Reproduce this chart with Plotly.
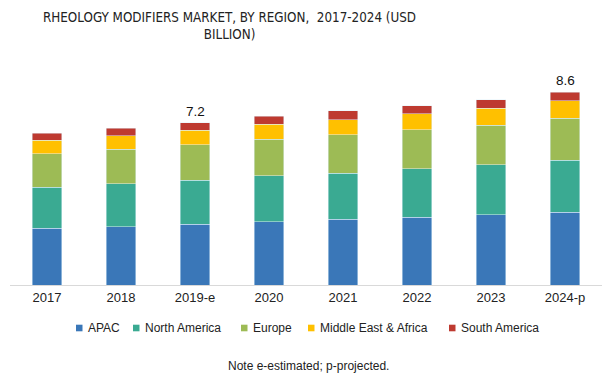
import plotly.graph_objects as go

years = ["2017", "2018", "2019-e", "2020", "2021", "2022", "2023", "2024-p"]
apac = [2.53, 2.60, 2.72, 2.82, 2.94, 3.03, 3.13, 3.24]
north_america = [1.84, 1.93, 1.96, 2.05, 2.06, 2.15, 2.23, 2.33]
europe = [1.48, 1.53, 1.59, 1.63, 1.71, 1.75, 1.78, 1.87]
mea = [0.61, 0.61, 0.64, 0.67, 0.67, 0.71, 0.76, 0.78]
south_america = [0.31, 0.33, 0.34, 0.36, 0.39, 0.37, 0.37, 0.38]
total_labels = ["", "", "7.2", "", "", "", "", "8.6"]

series_names = ["APAC", "North America", "Europe", "Middle East & Africa", "South America"]
series_values = [apac, north_america, europe, mea, south_america]
series_colors = ["#3A77B8", "#3AAA92", "#9DBB55", "#FFC000", "#BE3A30"]

W, H = 616, 385
ML, MR, MT, MB = 10, 14, 61, 100
FONT = "Liberation Sans, Arial, sans-serif"

fig = go.Figure()
for name, vals, col in zip(series_names, series_values, series_colors):
    fig.add_trace(go.Bar(
        x=years, y=vals, name=name, showlegend=False,
        marker=dict(color=col, line=dict(color="rgba(225,242,250,0.8)", width=0.6)),
    ))

totals = [sum(v) for v in zip(*series_values)]
for yr, tot, lab in zip(years, totals, total_labels):
    if lab:
        fig.add_annotation(x=yr, y=tot, text=lab, showarrow=False,
                           yanchor="bottom", yshift=2,
                           font=dict(family=FONT, size=13.5, color="#111111"))

def px_x(px):
    return (px - ML) / (W - ML - MR)

def px_y(py):
    return (H - MB - py) / (H - MT - MB)

# title
fig.add_annotation(xref="paper", yref="paper", x=px_x(229.5), y=px_y(8),
                   text="RHEOLOGY MODIFIERS MARKET, BY REGION,  2017-2024 (USD<br>BILLION)",
                   showarrow=False, xanchor="center", yanchor="top", align="center",
                   font=dict(family="DejaVu Sans Condensed, Liberation Sans Narrow, sans-serif",
                             size=13.3, color="#222222", weight=300))

# legend (manual, to match compact spacing)
legend_marker_x = [76, 133, 241, 308, 449]
legend_y = 328
for name, col, mx in zip(series_names, series_colors, legend_marker_x):
    fig.add_shape(type="rect", xref="paper", yref="paper",
                  x0=px_x(mx), x1=px_x(mx + 6.5), y0=px_y(legend_y + 3.3), y1=px_y(legend_y - 3.3),
                  fillcolor=col, line=dict(width=0))
    fig.add_annotation(xref="paper", yref="paper", x=px_x(mx + 9.5), y=px_y(legend_y),
                       text=name, showarrow=False, xanchor="left", yanchor="middle",
                       font=dict(family=FONT, size=12, color="#222222"))

# note
fig.add_annotation(xref="paper", yref="paper", x=px_x(308), y=px_y(366),
                   text="Note e-estimated; p-projected.", showarrow=False,
                   xanchor="center", yanchor="middle",
                   font=dict(family=FONT, size=12, color="#222222"))

fig.update_layout(
    width=W, height=H,
    margin=dict(l=ML, r=MR, t=MT, b=MB, autoexpand=False),
    barmode="stack", bargap=0.6,
    plot_bgcolor="white", paper_bgcolor="white",
    font=dict(family=FONT, size=12, color="#222222"),
    showlegend=False,
    xaxis=dict(showline=True, linecolor="#d9d9d9", linewidth=1, ticks="",
               tickfont=dict(size=13, color="#222222"), fixedrange=True),
    yaxis=dict(range=[0, 10], showgrid=False, showticklabels=False, zeroline=False,
               showline=False, fixedrange=True),
)

fig.write_html("out.html", config={"displayModeBar": False},
               post_script="document.body.style.margin='0';")
